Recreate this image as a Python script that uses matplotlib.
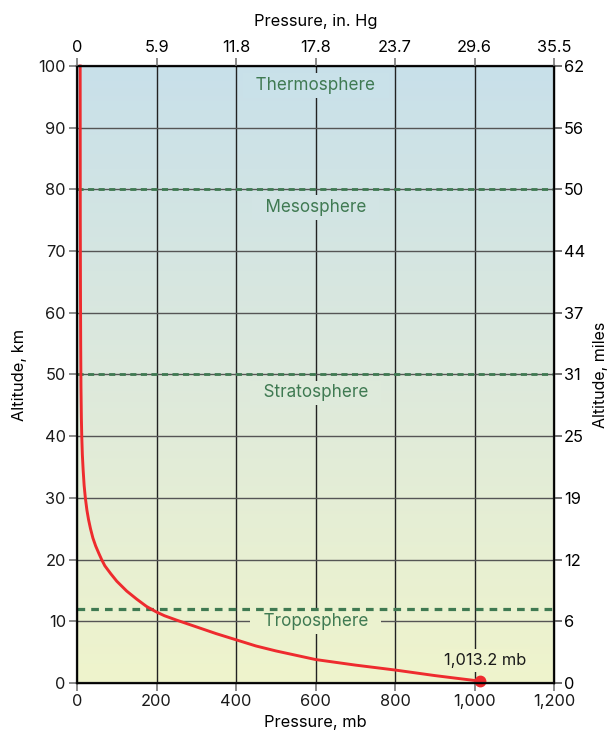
import numpy as np
import matplotlib
matplotlib.use('Agg')
import matplotlib.pyplot as plt
from matplotlib.colors import LinearSegmentedColormap

plt.rcParams['font.family'] = ['Inter', 'DejaVu Sans']

# pressure profile
pressure_mb = [1013.2, 950, 900, 800, 700, 600, 500, 450, 400, 350, 300, 250,
               220, 200, 175, 150, 125, 100, 85, 70, 62, 55, 47, 40, 34, 29,
               25, 21, 18, 15.5, 13.5, 12, 11, 10, 9.3, 8.8, 8.3, 8]
altitude_km = [0.3, 0.8, 1.2, 2.1, 2.9, 3.8, 5.2, 6.0, 7.0, 8.0, 9.1, 10.2,
               10.9, 11.5, 12.4, 13.6, 14.9, 16.5, 17.7, 19.0, 20.0, 21.0,
               22.2, 23.5, 25.0, 26.5, 28.0, 30.0, 32.0, 34.5, 37.0, 40.0,
               43.0, 48.0, 55.0, 63.0, 75.0, 100.0]

mb_ticks = [0, 200, 400, 600, 800, 1000, 1200]
mb_labels = ['0', '200', '400', '600', '800', '1,000', '1,200']
inhg_labels = ['0', '5.9', '11.8', '17.8', '23.7', '29.6', '35.5']
km_ticks = [0, 10, 20, 30, 40, 50, 60, 70, 80, 90, 100]
mile_labels = ['0', '6', '12', '19', '25', '31', '37', '44', '50', '56', '62']

layers = ['Thermosphere', 'Mesosphere', 'Stratosphere', 'Troposphere']
layer_y = [96.8, 77.1, 47.0, 10.0]
boundaries = [80, 50]
tropopause = 12

green = '#3f7a52'
red = '#ee2b2e'

fig = plt.figure(figsize=(6.11, 7.34), dpi=100)
ax = fig.add_axes([0.126, 0.0695, 0.781, 0.8406])

cmap = LinearSegmentedColormap.from_list('sky', ['#eff4cc', '#dde9dc', '#c8e0ea'])
grad = np.linspace(0, 1, 256).reshape(-1, 1)
ax.imshow(grad, cmap=cmap, origin='lower', extent=[0, 1200, 0, 100],
          aspect='auto', zorder=0)

for x in mb_ticks[1:-1]:
    ax.axvline(x, color='#222222', lw=1.0, zorder=1)
for y in km_ticks[1:-1]:
    ax.axhline(y, color='#555555', lw=1.0, zorder=1)

# boundary lines sit above the label boxes
for y in boundaries:
    ax.axhline(y, color=green, lw=2.0, ls=(0, (2.2, 1.6)), zorder=3.5)
ax.axhline(tropopause, color=green, lw=2.3, ls=(0, (2.4, 1.9)), zorder=3.5)

for name, y in zip(layers, layer_y):
    ax.text(600, y, '  ' + name + '  ', color=green, fontsize=12.3,
            ha='center', va='center', zorder=3,
            bbox=dict(boxstyle='square,pad=0.22', fc=cmap(y / 100), ec='none'))

ax.plot(pressure_mb, altitude_km, color=red, lw=2.1, zorder=4, clip_on=False)
ax.plot([pressure_mb[0]], [altitude_km[0]], 'o', color=red, ms=7.5,
        zorder=5, clip_on=False)
ax.text(1026, 3.6, '1,013.2 mb', fontsize=11.8, ha='center', va='center',
        color='#1a1a1a', zorder=3,
        bbox=dict(boxstyle='square,pad=0.25', fc=cmap(0.036), ec='none'))

ax.set_xlim(0, 1200)
ax.set_ylim(0, 100)
ax.set_xticks(mb_ticks)
ax.set_xticklabels(mb_labels)
ax.set_yticks(km_ticks)
ax.set_yticklabels([str(v) for v in km_ticks])
ax.tick_params(labelsize=11.8, length=6, width=1.2, color='#777777',
               labelcolor='#1a1a1a', pad=2)
ax.set_xlabel('Pressure, mb', fontsize=11.8, labelpad=4)
ax.set_ylabel('Altitude, km', fontsize=11.8, labelpad=8)
for s in ax.spines.values():
    s.set_linewidth(1.6)
    s.set_color('#111111')
    s.set_zorder(6)

top = ax.twiny()
top.set_xlim(0, 1200)
top.set_xticks(mb_ticks)
top.set_xticklabels(inhg_labels)
top.tick_params(labelsize=11.8, length=6, width=1.2, color='#777777', pad=2)
top.set_xlabel('Pressure, in. Hg', fontsize=11.8, labelpad=10)

right = ax.twinx()
right.set_ylim(0, 100)
right.set_yticks(km_ticks)
right.set_yticklabels(mile_labels)
right.tick_params(labelsize=11.8, length=6, width=1.2, color='#555555', pad=1)
right.set_ylabel('Altitude, miles', fontsize=11.5, labelpad=6)

plt.savefig('out.png', dpi=100)
